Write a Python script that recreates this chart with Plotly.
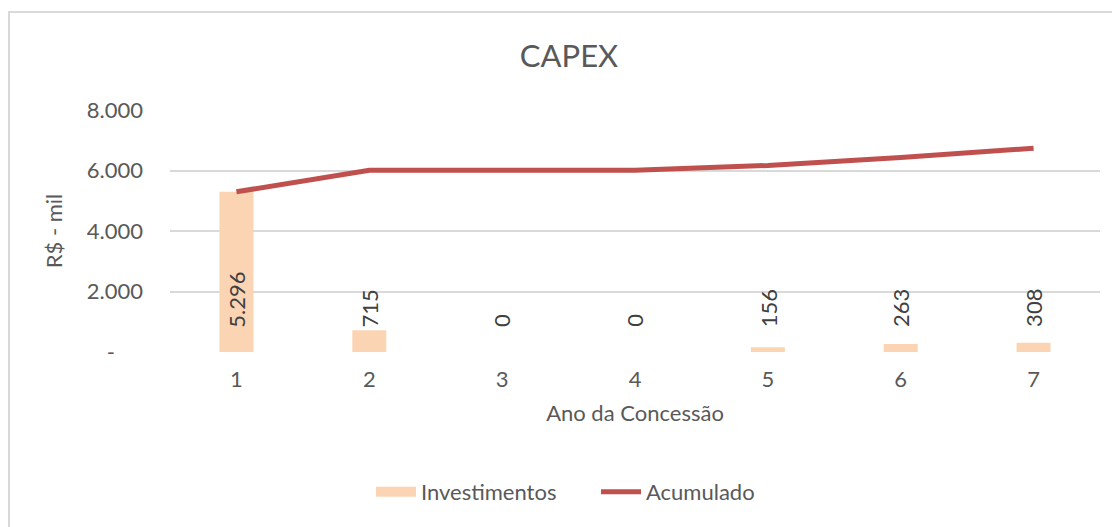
import plotly.graph_objects as go

anos = [1, 2, 3, 4, 5, 6, 7]
investimentos = [5296, 715, 0, 0, 156, 263, 308]
acumulado = [5296, 6011, 6011, 6011, 6167, 6430, 6738]
rotulos = ["5.296", "715", "0", "0", "156", "263", "308"]
y_tickvals = [0, 2000, 4000, 6000, 8000]
y_ticktext = ["-\u00a0\u00a0\u00a0\u00a0\u00a0", "2.000", "4.000", "6.000", "8.000"]

FONT = "Lato, Carlito, 'Open Sans', sans-serif"
GRID = "#D9D9D9"
TXT = "#595959"
PEACH = "#FBD4B4"
RED = "#C0504D"

# page body has an 8px margin; figure sized so the plot lands where the reference has it
W, H = 1112, 519
L, R, T, B = 162, 20, 102, 175

fig = go.Figure()
fig.add_trace(go.Bar(
    x=anos, y=investimentos, name="Investimentos",
    marker=dict(color=PEACH, line=dict(width=0)),
    width=0.256, showlegend=False,
))
# legend swatch for the bars (wide flat rectangle like the reference)
fig.add_trace(go.Scatter(
    x=[None], y=[None], name="Investimentos", mode="lines",
    line=dict(color=PEACH, width=14), hoverinfo="skip",
))
fig.add_trace(go.Scatter(
    x=anos, y=acumulado, name="Acumulado", mode="lines",
    line=dict(color=RED, width=5),
))

for xa, lab in zip(anos, rotulos):
    fig.add_annotation(
        x=xa, y=750, xref="x", yref="y", text=lab, showarrow=False,
        textangle=-90, yanchor="bottom", xanchor="center",
        font=dict(family=FONT, size=22, color="#404040"),
    )

pw, ph = W - L - R, H - T - B
# chart border (left and top visible)
fig.add_shape(type="rect", xref="paper", yref="paper",
              x0=(1 - L) / pw, x1=(W + 20 - L) / pw,
              y0=(H - B - (H + 20)) / ph, y1=(H - B - 4) / ph,
              line=dict(color=GRID, width=2), layer="below")

fig.update_layout(
    width=W, height=H,
    margin=dict(l=L, r=R, t=T, b=B, autoexpand=False),
    paper_bgcolor="white", plot_bgcolor="white",
    font=dict(family=FONT, size=22, color=TXT),
    title=dict(text="CAPEX", x=(569 - 8) / W, xref="container", xanchor="center",
               y=1 - (56 - 8) / H, yref="container", yanchor="middle",
               font=dict(family=FONT, size=31, color=TXT)),
    showlegend=True,
    legend=dict(orientation="h", xref="container", yref="container",
                x=(371 - 8) / W, xanchor="left", y=1 - (492 - 8) / H, yanchor="middle",
                font=dict(family=FONT, size=22, color=TXT),
                itemwidth=40, entrywidth=170, entrywidthmode="pixels",
                tracegroupgap=0),
)
fig.update_xaxes(
    tickmode="array", tickvals=anos, ticktext=[str(a) for a in anos],
    range=[0.5, 7.5], showgrid=False, zeroline=False, showline=False,
    ticks="", ticklabelstandoff=12,
    tickfont=dict(family=FONT, size=22, color=TXT),
    title=dict(text="Ano da Concessão", standoff=14,
               font=dict(family=FONT, size=22, color=TXT)),
)
fig.update_yaxes(
    range=[0, 8000], tickmode="array", tickvals=y_tickvals, ticktext=y_ticktext,
    showgrid=True, gridcolor=GRID, gridwidth=1.5, zeroline=False,
    showline=False, ticks="", ticklabelstandoff=26,
    tickfont=dict(family=FONT, size=22, color=TXT),
    title=dict(text="R$ - mil", standoff=18,
               font=dict(family=FONT, size=22, color=TXT)),
)

fig.write_html("out.html")
